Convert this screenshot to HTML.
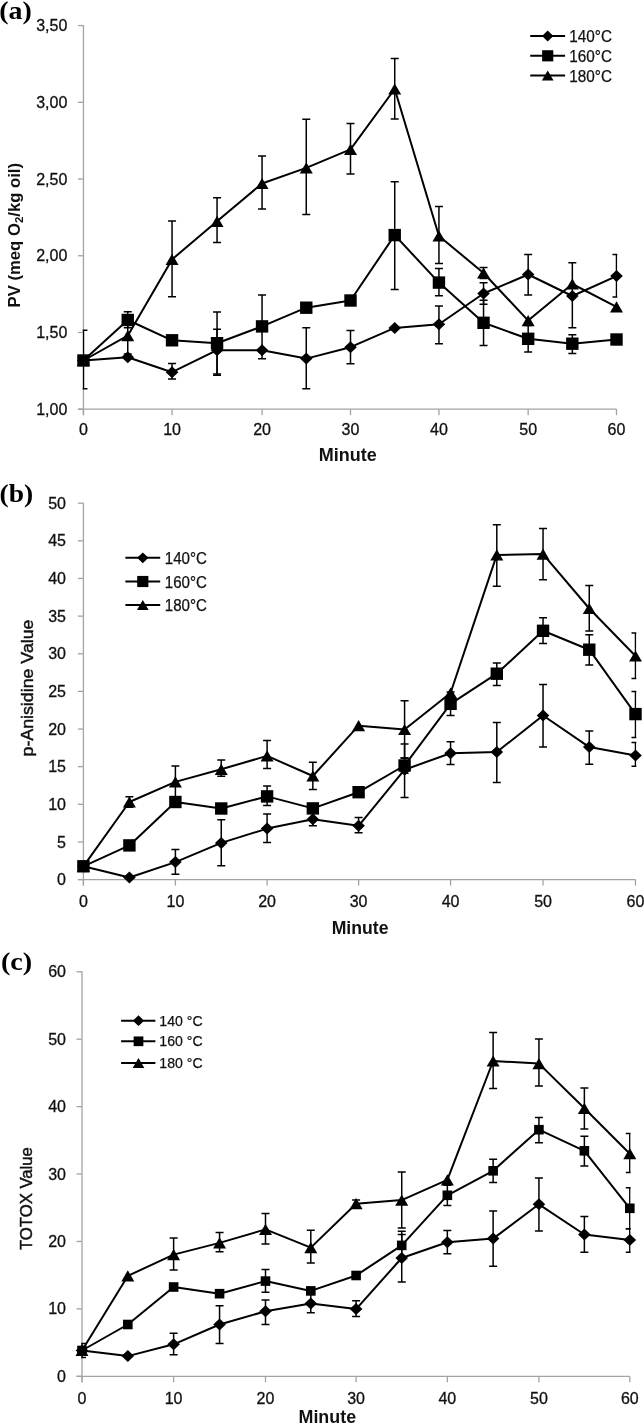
<!DOCTYPE html>
<html><head><meta charset="utf-8"><style>
html,body{margin:0;padding:0;background:#fff;overflow:hidden}
svg{display:block;filter:grayscale(1)}
</style></head><body>
<svg width="644" height="1425" viewBox="0 0 644 1425">
<rect width="644" height="1425" fill="#fff"/>
<clipPath id="clipa"><rect x="82.65" y="-14.60" width="534.65" height="423.80"/></clipPath>
<g stroke="#a3a3a3" stroke-width="1.3" fill="none">
<path d="M83.45 24.90V415.20M77.95 409.20H616.50"/>
<path d="M77.95 409.20H83.45"/>
<path d="M77.95 332.48H83.45"/>
<path d="M77.95 255.75H83.45"/>
<path d="M77.95 179.03H83.45"/>
<path d="M77.95 102.30H83.45"/>
<path d="M77.95 25.57H83.45"/>
<path d="M83.45 409.20V415.20"/>
<path d="M172.05 409.20V415.20"/>
<path d="M262.05 409.20V415.20"/>
<path d="M350.50 409.20V415.20"/>
<path d="M438.94 409.20V415.20"/>
<path d="M528.17 409.20V415.20"/>
<path d="M616.50 409.20V415.20"/>
</g>
<g font-family="Liberation Sans, sans-serif" font-size="16" fill="#111" stroke="#111" stroke-width="0.3">
<text x="67.30" y="414.80" text-anchor="end">1,00</text>
<text x="67.30" y="338.08" text-anchor="end">1,50</text>
<text x="67.30" y="261.35" text-anchor="end">2,00</text>
<text x="67.30" y="184.62" text-anchor="end">2,50</text>
<text x="67.30" y="107.90" text-anchor="end">3,00</text>
<text x="67.30" y="31.17" text-anchor="end">3,50</text>
<text x="83.45" y="434.80" text-anchor="middle">0</text>
<text x="172.05" y="434.80" text-anchor="middle">10</text>
<text x="262.05" y="434.80" text-anchor="middle">20</text>
<text x="350.50" y="434.80" text-anchor="middle">30</text>
<text x="438.94" y="434.80" text-anchor="middle">40</text>
<text x="528.17" y="434.80" text-anchor="middle">50</text>
<text x="616.50" y="434.80" text-anchor="middle">60</text>
</g>
<g>
<path d="M172.05 363.50V379.00M168.05 363.50H176.05M168.05 379.00H176.05M217.05 329.20V375.30M213.05 329.20H221.05M213.05 375.30H221.05M306.27 327.80V388.70M302.27 327.80H310.27M302.27 388.70H310.27M350.50 330.40V363.80M346.50 330.40H354.50M346.50 363.80H354.50M438.94 306.10V343.80M434.94 306.10H442.94M434.94 343.80H442.94M483.55 282.70V304.30M479.55 282.70H487.55M479.55 304.30H487.55M528.17 254.50V295.10M524.17 254.50H532.17M524.17 295.10H532.17M572.34 262.80V327.80M568.34 262.80H576.34M568.34 327.80H576.34M616.50 254.50V297.10M612.50 254.50H620.50M612.50 297.10H620.50" stroke="#000" stroke-width="1.5" fill="none" clip-path="url(#clipa)"/>
<path d="M83.45 360.50L127.75 357.30L172.05 372.20L217.05 350.20L262.05 350.20L306.27 358.60L350.50 347.20L394.72 327.90L438.94 324.30L483.55 293.50L528.17 274.50L572.34 296.00L616.50 276.10" stroke="#000" stroke-width="2.0" fill="none" stroke-linejoin="round"/>
<g fill="#000"><path d="M83.45 354.50L89.75 360.50L83.45 366.50L77.15 360.50Z"/><path d="M127.75 351.30L134.05 357.30L127.75 363.30L121.45 357.30Z"/><path d="M172.05 366.20L178.35 372.20L172.05 378.20L165.75 372.20Z"/><path d="M217.05 344.20L223.35 350.20L217.05 356.20L210.75 350.20Z"/><path d="M262.05 344.20L268.35 350.20L262.05 356.20L255.75 350.20Z"/><path d="M306.27 352.60L312.57 358.60L306.27 364.60L299.97 358.60Z"/><path d="M350.50 341.20L356.80 347.20L350.50 353.20L344.20 347.20Z"/><path d="M394.72 321.90L401.02 327.90L394.72 333.90L388.42 327.90Z"/><path d="M438.94 318.30L445.24 324.30L438.94 330.30L432.64 324.30Z"/><path d="M483.55 287.50L489.85 293.50L483.55 299.50L477.25 293.50Z"/><path d="M528.17 268.50L534.47 274.50L528.17 280.50L521.87 274.50Z"/><path d="M572.34 290.00L578.63 296.00L572.34 302.00L566.04 296.00Z"/><path d="M616.50 270.10L622.80 276.10L616.50 282.10L610.20 276.10Z"/></g>
<path d="M83.45 330.20V388.70M79.45 330.20H87.45M79.45 388.70H87.45M127.75 311.80V327.80M123.75 311.80H131.75M123.75 327.80H131.75M217.05 311.90V374.00M213.05 311.90H221.05M213.05 374.00H221.05M262.05 295.10V358.70M258.05 295.10H266.05M258.05 358.70H266.05M394.72 181.70V289.60M390.72 181.70H398.72M390.72 289.60H398.72M438.94 268.40V295.80M434.94 268.40H442.94M434.94 295.80H442.94M483.55 300.20V345.40M479.55 300.20H487.55M479.55 345.40H487.55M528.17 325.60V352.00M524.17 325.60H532.17M524.17 352.00H532.17M572.34 334.80V353.50M568.34 334.80H576.34M568.34 353.50H576.34" stroke="#000" stroke-width="1.5" fill="none" clip-path="url(#clipa)"/>
<path d="M83.45 360.50L127.75 320.00L172.05 340.30L217.05 343.20L262.05 326.40L306.27 307.70L350.50 300.50L394.72 235.10L438.94 282.60L483.55 322.80L528.17 338.80L572.34 343.70L616.50 339.50" stroke="#000" stroke-width="2.0" fill="none" stroke-linejoin="round"/>
<g fill="#000"><rect x="77.25" y="354.30" width="12.40" height="12.40"/><rect x="121.55" y="313.80" width="12.40" height="12.40"/><rect x="165.85" y="334.10" width="12.40" height="12.40"/><rect x="210.85" y="337.00" width="12.40" height="12.40"/><rect x="255.85" y="320.20" width="12.40" height="12.40"/><rect x="300.07" y="301.50" width="12.40" height="12.40"/><rect x="344.30" y="294.30" width="12.40" height="12.40"/><rect x="388.52" y="228.90" width="12.40" height="12.40"/><rect x="432.74" y="276.40" width="12.40" height="12.40"/><rect x="477.35" y="316.60" width="12.40" height="12.40"/><rect x="521.97" y="332.60" width="12.40" height="12.40"/><rect x="566.13" y="337.50" width="12.40" height="12.40"/><rect x="610.30" y="333.30" width="12.40" height="12.40"/></g>
<path d="M127.75 320.50V354.00M123.75 320.50H131.75M123.75 354.00H131.75M172.05 221.00V296.70M168.05 221.00H176.05M168.05 296.70H176.05M217.05 197.80V242.60M213.05 197.80H221.05M213.05 242.60H221.05M262.05 155.90V209.00M258.05 155.90H266.05M258.05 209.00H266.05M306.27 119.30V214.60M302.27 119.30H310.27M302.27 214.60H310.27M350.50 123.40V174.00M346.50 123.40H354.50M346.50 174.00H354.50M394.72 58.40V119.00M390.72 58.40H398.72M390.72 119.00H398.72M438.94 206.60V263.60M434.94 206.60H442.94M434.94 263.60H442.94M483.55 267.40V278.60M479.55 267.40H487.55M479.55 278.60H487.55" stroke="#000" stroke-width="1.5" fill="none" clip-path="url(#clipa)"/>
<path d="M83.45 360.50L127.75 335.70L172.05 259.40L217.05 221.30L262.05 183.50L306.27 167.90L350.50 149.40L394.72 89.00L438.94 236.00L483.55 273.00L528.17 320.60L572.34 284.00L616.50 306.90" stroke="#000" stroke-width="2.0" fill="none" stroke-linejoin="round"/>
<g fill="#000"><path d="M83.45 354.90L89.95 366.10L76.95 366.10Z"/><path d="M127.75 330.10L134.25 341.30L121.25 341.30Z"/><path d="M172.05 253.80L178.55 265.00L165.55 265.00Z"/><path d="M217.05 215.70L223.55 226.90L210.55 226.90Z"/><path d="M262.05 177.90L268.55 189.10L255.55 189.10Z"/><path d="M306.27 162.30L312.77 173.50L299.77 173.50Z"/><path d="M350.50 143.80L357.00 155.00L344.00 155.00Z"/><path d="M394.72 83.40L401.22 94.60L388.22 94.60Z"/><path d="M438.94 230.40L445.44 241.60L432.44 241.60Z"/><path d="M483.55 267.40L490.05 278.60L477.05 278.60Z"/><path d="M528.17 315.00L534.67 326.20L521.67 326.20Z"/><path d="M572.34 278.40L578.84 289.60L565.84 289.60Z"/><path d="M616.50 301.30L623.00 312.50L610.00 312.50Z"/></g>
</g>
<clipPath id="clipb"><rect x="82.60" y="463.20" width="553.70" height="416.40"/></clipPath>
<g stroke="#a3a3a3" stroke-width="1.3" fill="none">
<path d="M83.40 502.70V885.60M77.90 879.60H635.50"/>
<path d="M77.90 879.60H83.40"/>
<path d="M77.90 841.96H83.40"/>
<path d="M77.90 804.32H83.40"/>
<path d="M77.90 766.68H83.40"/>
<path d="M77.90 729.04H83.40"/>
<path d="M77.90 691.40H83.40"/>
<path d="M77.90 653.76H83.40"/>
<path d="M77.90 616.12H83.40"/>
<path d="M77.90 578.48H83.40"/>
<path d="M77.90 540.84H83.40"/>
<path d="M77.90 503.20H83.40"/>
<path d="M83.40 879.60V885.60"/>
<path d="M175.40 879.60V885.60"/>
<path d="M267.10 879.60V885.60"/>
<path d="M358.60 879.60V885.60"/>
<path d="M450.56 879.60V885.60"/>
<path d="M543.04 879.60V885.60"/>
<path d="M635.50 879.60V885.60"/>
</g>
<g font-family="Liberation Sans, sans-serif" font-size="16" fill="#111" stroke="#111" stroke-width="0.3">
<text x="66.00" y="885.20" text-anchor="end">0</text>
<text x="66.00" y="847.56" text-anchor="end">5</text>
<text x="66.00" y="809.92" text-anchor="end">10</text>
<text x="66.00" y="772.28" text-anchor="end">15</text>
<text x="66.00" y="734.64" text-anchor="end">20</text>
<text x="66.00" y="697.00" text-anchor="end">25</text>
<text x="66.00" y="659.36" text-anchor="end">30</text>
<text x="66.00" y="621.72" text-anchor="end">35</text>
<text x="66.00" y="584.08" text-anchor="end">40</text>
<text x="66.00" y="546.44" text-anchor="end">45</text>
<text x="66.00" y="508.80" text-anchor="end">50</text>
<text x="83.40" y="907.00" text-anchor="middle">0</text>
<text x="175.40" y="907.00" text-anchor="middle">10</text>
<text x="267.10" y="907.00" text-anchor="middle">20</text>
<text x="358.60" y="907.00" text-anchor="middle">30</text>
<text x="450.56" y="907.00" text-anchor="middle">40</text>
<text x="543.04" y="907.00" text-anchor="middle">50</text>
<text x="635.50" y="907.00" text-anchor="middle">60</text>
</g>
<g>
<path d="M175.40 849.60V874.20M171.40 849.60H179.40M171.40 874.20H179.40M221.25 819.70V865.80M217.25 819.70H225.25M217.25 865.80H225.25M267.10 814.00V842.50M263.10 814.00H271.10M263.10 842.50H271.10M312.85 812.80V825.80M308.85 812.80H316.85M308.85 825.80H316.85M358.60 817.40V832.80M354.60 817.40H362.60M354.60 832.80H362.60M404.58 744.00V797.50M400.58 744.00H408.58M400.58 797.50H408.58M450.56 741.70V764.40M446.56 741.70H454.56M446.56 764.40H454.56M496.80 722.40V782.60M492.80 722.40H500.80M492.80 782.60H500.80M543.04 684.50V747.10M539.04 684.50H547.04M539.04 747.10H547.04M589.27 731.10V764.20M585.27 731.10H593.27M585.27 764.20H593.27M635.50 742.60V766.30M631.50 742.60H639.50M631.50 766.30H639.50" stroke="#000" stroke-width="1.5" fill="none" clip-path="url(#clipb)"/>
<path d="M83.40 866.30L129.40 877.50L175.40 862.10L221.25 842.90L267.10 828.60L312.85 819.30L358.60 825.80L404.58 769.70L450.56 753.20L496.80 752.00L543.04 715.50L589.27 747.10L635.50 755.50" stroke="#000" stroke-width="2.0" fill="none" stroke-linejoin="round"/>
<g fill="#000"><path d="M83.40 860.30L89.70 866.30L83.40 872.30L77.10 866.30Z"/><path d="M129.40 871.50L135.70 877.50L129.40 883.50L123.10 877.50Z"/><path d="M175.40 856.10L181.70 862.10L175.40 868.10L169.10 862.10Z"/><path d="M221.25 836.90L227.55 842.90L221.25 848.90L214.95 842.90Z"/><path d="M267.10 822.60L273.40 828.60L267.10 834.60L260.80 828.60Z"/><path d="M312.85 813.30L319.15 819.30L312.85 825.30L306.55 819.30Z"/><path d="M358.60 819.80L364.90 825.80L358.60 831.80L352.30 825.80Z"/><path d="M404.58 763.70L410.88 769.70L404.58 775.70L398.28 769.70Z"/><path d="M450.56 747.20L456.86 753.20L450.56 759.20L444.26 753.20Z"/><path d="M496.80 746.00L503.10 752.00L496.80 758.00L490.50 752.00Z"/><path d="M543.04 709.50L549.34 715.50L543.04 721.50L536.74 715.50Z"/><path d="M589.27 741.10L595.57 747.10L589.27 753.10L582.97 747.10Z"/><path d="M635.50 749.50L641.80 755.50L635.50 761.50L629.20 755.50Z"/></g>
<path d="M267.10 786.10V805.40M263.10 786.10H271.10M263.10 805.40H271.10M404.58 757.70V773.30M400.58 757.70H408.58M400.58 773.30H408.58M450.56 692.00V715.50M446.56 692.00H454.56M446.56 715.50H454.56M496.80 663.10V685.50M492.80 663.10H500.80M492.80 685.50H500.80M543.04 617.80V643.50M539.04 617.80H547.04M539.04 643.50H547.04M589.27 634.70V665.00M585.27 634.70H593.27M585.27 665.00H593.27M635.50 691.50V737.40M631.50 691.50H639.50M631.50 737.40H639.50" stroke="#000" stroke-width="1.5" fill="none" clip-path="url(#clipb)"/>
<path d="M83.40 866.30L129.40 845.40L175.40 802.00L221.25 808.50L267.10 796.40L312.85 808.40L358.60 792.20L404.58 765.50L450.56 703.80L496.80 673.70L543.04 630.80L589.27 649.70L635.50 714.10" stroke="#000" stroke-width="2.0" fill="none" stroke-linejoin="round"/>
<g fill="#000"><rect x="77.20" y="860.10" width="12.40" height="12.40"/><rect x="123.20" y="839.20" width="12.40" height="12.40"/><rect x="169.20" y="795.80" width="12.40" height="12.40"/><rect x="215.05" y="802.30" width="12.40" height="12.40"/><rect x="260.90" y="790.20" width="12.40" height="12.40"/><rect x="306.65" y="802.20" width="12.40" height="12.40"/><rect x="352.40" y="786.00" width="12.40" height="12.40"/><rect x="398.38" y="759.30" width="12.40" height="12.40"/><rect x="444.36" y="697.60" width="12.40" height="12.40"/><rect x="490.60" y="667.50" width="12.40" height="12.40"/><rect x="536.84" y="624.60" width="12.40" height="12.40"/><rect x="583.07" y="643.50" width="12.40" height="12.40"/><rect x="629.30" y="707.90" width="12.40" height="12.40"/></g>
<path d="M129.40 796.70V807.30M125.40 796.70H133.40M125.40 807.30H133.40M175.40 766.00V797.50M171.40 766.00H179.40M171.40 797.50H179.40M221.25 760.10V776.30M217.25 760.10H225.25M217.25 776.30H225.25M267.10 740.50V768.50M263.10 740.50H271.10M263.10 768.50H271.10M312.85 762.30V789.40M308.85 762.30H316.85M308.85 789.40H316.85M404.58 700.80V758.20M400.58 700.80H408.58M400.58 758.20H408.58M496.80 524.80V586.20M492.80 524.80H500.80M492.80 586.20H500.80M543.04 528.40V579.70M539.04 528.40H547.04M539.04 579.70H547.04M589.27 585.50V631.10M585.27 585.50H593.27M585.27 631.10H593.27M635.50 633.10V678.60M631.50 633.10H639.50M631.50 678.60H639.50" stroke="#000" stroke-width="1.5" fill="none" clip-path="url(#clipb)"/>
<path d="M83.40 866.30L129.40 802.00L175.40 781.90L221.25 769.30L267.10 755.90L312.85 776.00L358.60 725.70L404.58 729.50L450.56 693.00L496.80 554.90L543.04 554.10L589.27 608.50L635.50 656.00" stroke="#000" stroke-width="2.0" fill="none" stroke-linejoin="round"/>
<g fill="#000"><path d="M83.40 860.70L89.90 871.90L76.90 871.90Z"/><path d="M129.40 796.40L135.90 807.60L122.90 807.60Z"/><path d="M175.40 776.30L181.90 787.50L168.90 787.50Z"/><path d="M221.25 763.70L227.75 774.90L214.75 774.90Z"/><path d="M267.10 750.30L273.60 761.50L260.60 761.50Z"/><path d="M312.85 770.40L319.35 781.60L306.35 781.60Z"/><path d="M358.60 720.10L365.10 731.30L352.10 731.30Z"/><path d="M404.58 723.90L411.08 735.10L398.08 735.10Z"/><path d="M450.56 687.40L457.06 698.60L444.06 698.60Z"/><path d="M496.80 549.30L503.30 560.50L490.30 560.50Z"/><path d="M543.04 548.50L549.54 559.70L536.54 559.70Z"/><path d="M589.27 602.90L595.77 614.10L582.77 614.10Z"/><path d="M635.50 650.40L642.00 661.60L629.00 661.60Z"/></g>
</g>
<clipPath id="clipc"><rect x="81.20" y="931.80" width="549.40" height="444.50"/></clipPath>
<g stroke="#a3a3a3" stroke-width="1.3" fill="none">
<path d="M82.00 971.30V1382.30M76.50 1376.30H629.80"/>
<path d="M76.50 1376.30H82.00"/>
<path d="M76.50 1308.88H82.00"/>
<path d="M76.50 1241.46H82.00"/>
<path d="M76.50 1174.04H82.00"/>
<path d="M76.50 1106.62H82.00"/>
<path d="M76.50 1039.20H82.00"/>
<path d="M76.50 971.78H82.00"/>
<path d="M82.00 1376.30V1382.30"/>
<path d="M173.63 1376.30V1382.30"/>
<path d="M265.50 1376.30V1382.30"/>
<path d="M356.10 1376.30V1382.30"/>
<path d="M447.34 1376.30V1382.30"/>
<path d="M538.93 1376.30V1382.30"/>
<path d="M629.80 1376.30V1382.30"/>
</g>
<g font-family="Liberation Sans, sans-serif" font-size="16" fill="#111" stroke="#111" stroke-width="0.3">
<text x="66.00" y="1381.90" text-anchor="end">0</text>
<text x="66.00" y="1314.48" text-anchor="end">10</text>
<text x="66.00" y="1247.06" text-anchor="end">20</text>
<text x="66.00" y="1179.64" text-anchor="end">30</text>
<text x="66.00" y="1112.22" text-anchor="end">40</text>
<text x="66.00" y="1044.80" text-anchor="end">50</text>
<text x="66.00" y="977.38" text-anchor="end">60</text>
<text x="82.00" y="1404.00" text-anchor="middle">0</text>
<text x="173.63" y="1404.00" text-anchor="middle">10</text>
<text x="265.50" y="1404.00" text-anchor="middle">20</text>
<text x="356.10" y="1404.00" text-anchor="middle">30</text>
<text x="447.34" y="1404.00" text-anchor="middle">40</text>
<text x="538.93" y="1404.00" text-anchor="middle">50</text>
<text x="629.80" y="1404.00" text-anchor="middle">60</text>
</g>
<g>
<path d="M82.00 1343.50V1357.50M78.00 1343.50H86.00M78.00 1357.50H86.00M173.63 1333.20V1354.70M169.63 1333.20H177.63M169.63 1354.70H177.63M219.56 1305.80V1343.50M215.56 1305.80H223.56M215.56 1343.50H223.56M265.50 1299.90V1324.40M261.50 1299.90H269.50M261.50 1324.40H269.50M310.80 1294.30V1312.70M306.80 1294.30H314.80M306.80 1312.70H314.80M356.10 1300.70V1316.60M352.10 1300.70H360.10M352.10 1316.60H360.10M401.72 1234.40V1282.00M397.72 1234.40H405.72M397.72 1282.00H405.72M447.34 1230.50V1253.70M443.34 1230.50H451.34M443.34 1253.70H451.34M493.13 1211.00V1266.30M489.13 1211.00H497.13M489.13 1266.30H497.13M538.93 1178.10V1231.00M534.93 1178.10H542.93M534.93 1231.00H542.93M584.37 1216.50V1252.30M580.37 1216.50H588.37M580.37 1252.30H588.37M629.80 1228.80V1252.30M625.80 1228.80H633.80M625.80 1252.30H633.80" stroke="#000" stroke-width="1.5" fill="none" clip-path="url(#clipc)"/>
<path d="M82.00 1350.50L127.81 1356.10L173.63 1344.30L219.56 1324.50L265.50 1311.30L310.80 1303.50L356.10 1309.10L401.72 1258.00L447.34 1242.20L493.13 1238.60L538.93 1204.30L584.37 1234.50L629.80 1240.00" stroke="#000" stroke-width="2.0" fill="none" stroke-linejoin="round"/>
<g fill="#000"><path d="M82.00 1344.50L88.30 1350.50L82.00 1356.50L75.70 1350.50Z"/><path d="M127.81 1350.10L134.12 1356.10L127.81 1362.10L121.52 1356.10Z"/><path d="M173.63 1338.30L179.93 1344.30L173.63 1350.30L167.33 1344.30Z"/><path d="M219.56 1318.50L225.87 1324.50L219.56 1330.50L213.26 1324.50Z"/><path d="M265.50 1305.30L271.80 1311.30L265.50 1317.30L259.20 1311.30Z"/><path d="M310.80 1297.50L317.10 1303.50L310.80 1309.50L304.50 1303.50Z"/><path d="M356.10 1303.10L362.40 1309.10L356.10 1315.10L349.80 1309.10Z"/><path d="M401.72 1252.00L408.02 1258.00L401.72 1264.00L395.42 1258.00Z"/><path d="M447.34 1236.20L453.64 1242.20L447.34 1248.20L441.04 1242.20Z"/><path d="M493.13 1232.60L499.44 1238.60L493.13 1244.60L486.83 1238.60Z"/><path d="M538.93 1198.30L545.23 1204.30L538.93 1210.30L532.63 1204.30Z"/><path d="M584.37 1228.50L590.66 1234.50L584.37 1240.50L578.07 1234.50Z"/><path d="M629.80 1234.00L636.10 1240.00L629.80 1246.00L623.50 1240.00Z"/></g>
<path d="M265.50 1269.40V1292.30M261.50 1269.40H269.50M261.50 1292.30H269.50M401.72 1231.20V1259.60M397.72 1231.20H405.72M397.72 1259.60H405.72M447.34 1185.20V1205.40M443.34 1185.20H451.34M443.34 1205.40H451.34M493.13 1159.20V1182.40M489.13 1159.20H497.13M489.13 1182.40H497.13M538.93 1117.40V1142.80M534.93 1117.40H542.93M534.93 1142.80H542.93M584.37 1136.30V1166.00M580.37 1136.30H588.37M580.37 1166.00H588.37M629.80 1187.80V1228.70M625.80 1187.80H633.80M625.80 1228.70H633.80" stroke="#000" stroke-width="1.5" fill="none" clip-path="url(#clipc)"/>
<path d="M82.00 1350.50L127.81 1324.50L173.63 1287.00L219.56 1293.70L265.50 1281.10L310.80 1290.90L356.10 1275.50L401.72 1245.40L447.34 1195.30L493.13 1170.80L538.93 1129.70L584.37 1150.80L629.80 1208.30" stroke="#000" stroke-width="2.0" fill="none" stroke-linejoin="round"/>
<g fill="#000"><rect x="77.20" y="1345.70" width="9.60" height="9.60"/><rect x="123.02" y="1319.70" width="9.60" height="9.60"/><rect x="168.83" y="1282.20" width="9.60" height="9.60"/><rect x="214.76" y="1288.90" width="9.60" height="9.60"/><rect x="260.70" y="1276.30" width="9.60" height="9.60"/><rect x="306.00" y="1286.10" width="9.60" height="9.60"/><rect x="351.30" y="1270.70" width="9.60" height="9.60"/><rect x="396.92" y="1240.60" width="9.60" height="9.60"/><rect x="442.54" y="1190.50" width="9.60" height="9.60"/><rect x="488.33" y="1166.00" width="9.60" height="9.60"/><rect x="534.13" y="1124.90" width="9.60" height="9.60"/><rect x="579.57" y="1146.00" width="9.60" height="9.60"/><rect x="625.00" y="1203.50" width="9.60" height="9.60"/></g>
<path d="M173.63 1237.90V1270.00M169.63 1237.90H177.63M169.63 1270.00H177.63M219.56 1232.50V1251.80M215.56 1232.50H223.56M215.56 1251.80H223.56M265.50 1213.50V1244.00M261.50 1213.50H269.50M261.50 1244.00H269.50M310.80 1230.30V1263.00M306.80 1230.30H314.80M306.80 1263.00H314.80M356.10 1199.90V1207.50M352.10 1199.90H360.10M352.10 1207.50H360.10M401.72 1172.10V1228.10M397.72 1172.10H405.72M397.72 1228.10H405.72M493.13 1032.60V1088.50M489.13 1032.60H497.13M489.13 1088.50H497.13M538.93 1038.90V1086.10M534.93 1038.90H542.93M534.93 1086.10H542.93M584.37 1088.00V1129.00M580.37 1088.00H588.37M580.37 1129.00H588.37M629.80 1133.40V1172.60M625.80 1133.40H633.80M625.80 1172.60H633.80" stroke="#000" stroke-width="1.5" fill="none" clip-path="url(#clipc)"/>
<path d="M82.00 1350.50L127.81 1275.90L173.63 1254.60L219.56 1242.90L265.50 1229.40L310.80 1247.60L356.10 1203.70L401.72 1200.10L447.34 1179.90L493.13 1061.00L538.93 1063.60L584.37 1108.30L629.80 1153.70" stroke="#000" stroke-width="2.0" fill="none" stroke-linejoin="round"/>
<g fill="#000"><path d="M82.00 1344.90L88.50 1356.10L75.50 1356.10Z"/><path d="M127.81 1270.30L134.31 1281.50L121.31 1281.50Z"/><path d="M173.63 1249.00L180.13 1260.20L167.13 1260.20Z"/><path d="M219.56 1237.30L226.06 1248.50L213.06 1248.50Z"/><path d="M265.50 1223.80L272.00 1235.00L259.00 1235.00Z"/><path d="M310.80 1242.00L317.30 1253.20L304.30 1253.20Z"/><path d="M356.10 1198.10L362.60 1209.30L349.60 1209.30Z"/><path d="M401.72 1194.50L408.22 1205.70L395.22 1205.70Z"/><path d="M447.34 1174.30L453.84 1185.50L440.84 1185.50Z"/><path d="M493.13 1055.40L499.63 1066.60L486.63 1066.60Z"/><path d="M538.93 1058.00L545.43 1069.20L532.43 1069.20Z"/><path d="M584.37 1102.70L590.87 1113.90L577.87 1113.90Z"/><path d="M629.80 1148.10L636.30 1159.30L623.30 1159.30Z"/></g>
</g>
<path d="M530.20 36.00H565.10" stroke="#000" stroke-width="2.0"/>
<g fill="#000"><path d="M547.70 30.60L553.37 36.00L547.70 41.40L542.03 36.00Z"/></g>
<text x="569.30" y="42.20" font-family="Liberation Sans, sans-serif" font-size="16" fill="#111" stroke="#111" stroke-width="0.25" textLength="42.7" lengthAdjust="spacingAndGlyphs">140°C</text>
<path d="M530.20 55.80H565.10" stroke="#000" stroke-width="2.0"/>
<g fill="#000"><rect x="542.12" y="50.22" width="11.16" height="11.16"/></g>
<text x="569.30" y="62.00" font-family="Liberation Sans, sans-serif" font-size="16" fill="#111" stroke="#111" stroke-width="0.25" textLength="42.7" lengthAdjust="spacingAndGlyphs">160°C</text>
<path d="M530.20 75.50H565.10" stroke="#000" stroke-width="2.0"/>
<g fill="#000"><path d="M547.70 70.46L553.55 80.54L541.85 80.54Z"/></g>
<text x="569.30" y="81.70" font-family="Liberation Sans, sans-serif" font-size="16" fill="#111" stroke="#111" stroke-width="0.25" textLength="42.7" lengthAdjust="spacingAndGlyphs">180°C</text>
<path d="M125.40 557.80H160.20" stroke="#000" stroke-width="2.0"/>
<g fill="#000"><path d="M142.80 552.40L148.47 557.80L142.80 563.20L137.13 557.80Z"/></g>
<text x="164.80" y="563.80" font-family="Liberation Sans, sans-serif" font-size="16" fill="#111" stroke="#111" stroke-width="0.25" textLength="42.2" lengthAdjust="spacingAndGlyphs">140°C</text>
<path d="M125.40 581.50H160.20" stroke="#000" stroke-width="2.0"/>
<g fill="#000"><rect x="137.22" y="575.92" width="11.16" height="11.16"/></g>
<text x="164.80" y="587.50" font-family="Liberation Sans, sans-serif" font-size="16" fill="#111" stroke="#111" stroke-width="0.25" textLength="42.2" lengthAdjust="spacingAndGlyphs">160°C</text>
<path d="M125.40 605.00H160.20" stroke="#000" stroke-width="2.0"/>
<g fill="#000"><path d="M142.80 599.96L148.65 610.04L136.95 610.04Z"/></g>
<text x="164.80" y="611.00" font-family="Liberation Sans, sans-serif" font-size="16" fill="#111" stroke="#111" stroke-width="0.25" textLength="42.2" lengthAdjust="spacingAndGlyphs">180°C</text>
<path d="M121.10 1020.70H155.40" stroke="#000" stroke-width="2.0"/>
<g fill="#000"><path d="M138.50 1015.30L144.17 1020.70L138.50 1026.10L132.83 1020.70Z"/></g>
<text x="159.30" y="1025.60" font-family="Liberation Sans, sans-serif" font-size="15" fill="#111" stroke="#111" stroke-width="0.25" textLength="43.3" lengthAdjust="spacingAndGlyphs">140 °C</text>
<path d="M121.10 1041.30H155.40" stroke="#000" stroke-width="2.0"/>
<g fill="#000"><rect x="133.64" y="1036.44" width="9.72" height="9.72"/></g>
<text x="159.30" y="1046.20" font-family="Liberation Sans, sans-serif" font-size="15" fill="#111" stroke="#111" stroke-width="0.25" textLength="43.3" lengthAdjust="spacingAndGlyphs">160 °C</text>
<path d="M121.10 1063.00H155.40" stroke="#000" stroke-width="2.0"/>
<g fill="#000"><path d="M138.50 1057.96L144.35 1068.04L132.65 1068.04Z"/></g>
<text x="159.30" y="1067.90" font-family="Liberation Sans, sans-serif" font-size="15" fill="#111" stroke="#111" stroke-width="0.25" textLength="43.3" lengthAdjust="spacingAndGlyphs">180 °C</text>
<text font-family="Liberation Serif, serif" font-weight="bold" font-size="26" x="-0.8" y="18.8" textLength="32.6" lengthAdjust="spacingAndGlyphs">(a)</text>
<text font-family="Liberation Serif, serif" font-weight="bold" font-size="26" x="-0.5" y="501.9" textLength="33.6" lengthAdjust="spacingAndGlyphs">(b)</text>
<text font-family="Liberation Serif, serif" font-weight="bold" font-size="26" x="0.9" y="969.9" textLength="31.3" lengthAdjust="spacingAndGlyphs">(c)</text>
<text font-family="Liberation Sans, sans-serif" font-weight="bold" font-size="17.5" x="347.7" y="461.2" text-anchor="middle" fill="#111" textLength="58" lengthAdjust="spacingAndGlyphs">Minute</text>
<text font-family="Liberation Sans, sans-serif" font-weight="bold" font-size="17.5" x="360.1" y="934" text-anchor="middle" fill="#111" textLength="56.8" lengthAdjust="spacingAndGlyphs">Minute</text>
<text font-family="Liberation Sans, sans-serif" font-weight="bold" font-size="17.5" x="327.3" y="1423.3" text-anchor="middle" fill="#111" textLength="57.6" lengthAdjust="spacingAndGlyphs">Minute</text>
<text font-family="Liberation Sans, sans-serif" font-weight="bold" font-size="16" transform="translate(20.4 235.2) rotate(-90)" text-anchor="middle" fill="#111" textLength="144.5" lengthAdjust="spacingAndGlyphs">PV (meq O<tspan font-size="11" dy="3">2</tspan><tspan dy="-3">/kg oil)</tspan></text>
<text font-family="Liberation Sans, sans-serif" font-size="16.5" stroke="#111" stroke-width="0.45" transform="translate(33 688) rotate(-90)" text-anchor="middle" fill="#111" textLength="137" lengthAdjust="spacingAndGlyphs">p-Anisidine Value</text>
<text font-family="Liberation Sans, sans-serif" font-size="16.4" stroke="#111" stroke-width="0.45" transform="translate(32 1198.6) rotate(-90)" text-anchor="middle" fill="#111" textLength="103" lengthAdjust="spacingAndGlyphs">TOTOX Value</text>
</svg>
</body></html>
